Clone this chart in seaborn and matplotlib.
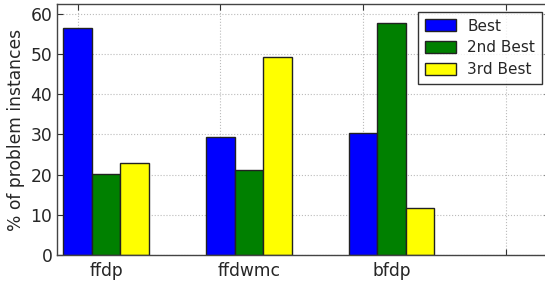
import pandas as pd
import matplotlib
matplotlib.use('Agg')
import matplotlib.pyplot as plt
import seaborn as sns

methods = ['ffdp', 'ffdwmc', 'bfdp']
ranks = ['Best', '2nd Best', '3rd Best']
best = [56.4, 29.5, 30.4]
second = [20.2, 21.2, 57.7]
third = [22.9, 49.2, 11.8]

rows = []
for m, b, s, t in zip(methods, best, second, third):
    rows.append((m, 'Best', b))
    rows.append((m, '2nd Best', s))
    rows.append((m, '3rd Best', t))
df = pd.DataFrame(rows, columns=['method', 'rank', 'pct'])

sns.set_style('white')
plt.rcParams['font.family'] = ['DejaVu Sans']

fig = plt.figure(figsize=(5.45, 2.83), dpi=100)
ax = fig.add_axes([0.105, 0.099, 0.905, 0.887])

sns.barplot(data=df, x='method', y='pct', hue='rank', hue_order=ranks,
            palette=['#0000ff', '#008000', '#ffff00'], width=0.6,
            edgecolor='#222222', linewidth=1.0, saturation=1, ax=ax)

# grid / tick marks sit on the first bar of each group, labels on group centre
ax.set_xticks([-0.2, 0.8, 1.8, 2.8])
ax.set_xticklabels([])
ax.set_xticks([0, 1, 2], minor=True)
ax.set_xticklabels(methods, minor=True, fontsize=12.3)
ax.tick_params(axis='x', which='minor', length=0, pad=5)
ax.set_xlim(-0.343, 3.113)
ax.set_ylim(0, 62.5)
ax.set_yticks([0, 10, 20, 30, 40, 50, 60])
ax.tick_params(axis='y', labelsize=12.3)
ax.tick_params(which='major', direction='in', length=4, top=True, right=True,
               bottom=True, left=True, color='#333333')
ax.set_xlabel('')
ax.set_ylabel('% of problem instances', fontsize=12.3)
ax.grid(True, which='major', linestyle=':', color='#bbbbbb', linewidth=0.8)
ax.set_axisbelow(True)
for sp in ax.spines.values():
    sp.set_color('#444444')
    sp.set_linewidth(1.0)

leg = ax.legend(loc='upper right', bbox_to_anchor=(0.983, 0.969), borderaxespad=0,
                fontsize=11, frameon=True, fancybox=False, edgecolor='black',
                handlelength=2.0, handleheight=0.8, handletextpad=0.75,
                borderpad=0.45, labelspacing=0.45)
leg.get_frame().set_linewidth(1.0)

fig.savefig('out.png', dpi=100)
